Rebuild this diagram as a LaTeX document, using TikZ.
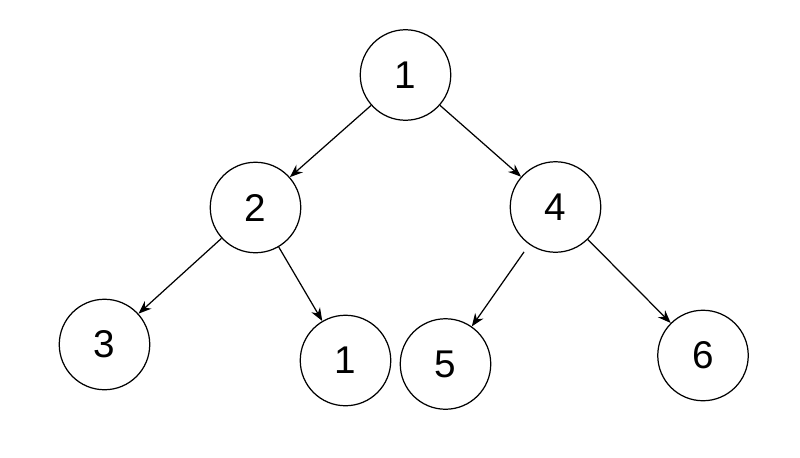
\documentclass[tikz,border=0pt]{standalone}
\usepackage{fontspec}
\setmainfont{Liberation Sans}
\usetikzlibrary{arrows.meta}

\begin{document}
\begin{tikzpicture}[x=1cm, y=1cm, >={Stealth[length=2.6mm, width=2mm]},
                    every node/.style={font=\fontsize{22}{26}\selectfont},
                    vertex/.style={draw, circle, line width=0.7pt, minimum size=1.81cm, inner sep=0pt},
                    edge/.style={->, line width=0.7pt}]

  %% canvas
  \useasboundingbox (0,0) rectangle (16,9.14);

  %% vertices
  \node[vertex] (root)  at (8.11,7.64) {1};
  \node[vertex] (left)  at (5.11,4.99) {2};
  \node[vertex] (right) at (11.11,5.00) {4};
  \node[vertex] (ll)    at (2.09,2.25) {3};
  \node[vertex] (lr)    at (6.91,1.93) {1};
  \node[vertex] (rl)    at (8.91,1.86) {5};
  \node[vertex] (rr)    at (14.06,2.03) {6};

  %% edges
  \draw[edge] (root) -- (left);
  \draw[edge] (root) -- (right);
  \draw[edge] (left) -- (ll);
  \draw[edge] (left) -- (lr);
  \draw[edge, shorten <=0.18cm] (right) -- (rl);
  \draw[edge] (right) -- (rr);

\end{tikzpicture}
\end{document}
